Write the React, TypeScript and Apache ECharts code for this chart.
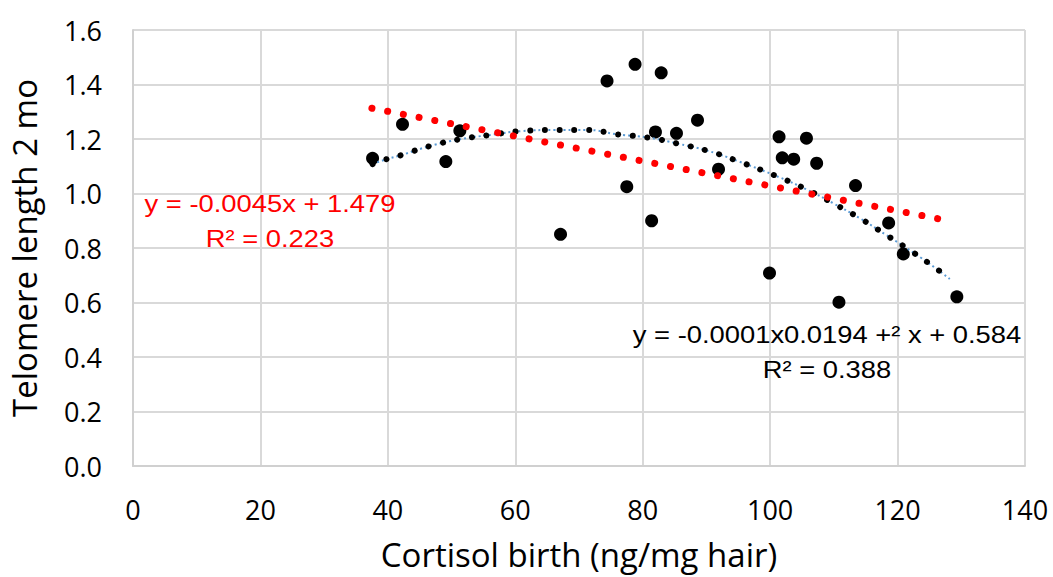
import React, { useEffect, useRef } from "react";
import * as echarts from "echarts";

// Scatter data: cortisol at birth (x) vs telomere length at 2 months (y)
const cortisol = [
  37.6, 42.3, 49.1, 51.3, 67.1, 74.4, 78.8, 82.9, 77.5, 81.4, 82.0, 85.3, 88.6,
  91.9, 101.4, 105.7, 101.9, 103.7, 107.3, 113.4, 99.9, 110.8, 118.6, 120.9, 129.3,
];
const telomere = [
  1.129, 1.254, 1.117, 1.23, 0.85, 1.413, 1.474, 1.443, 1.025, 0.9, 1.226, 1.221, 1.269,
  1.089, 1.208, 1.203, 1.131, 1.126, 1.111, 1.029, 0.708, 0.601, 0.892, 0.778, 0.621,
];

// Linear trendline endpoints
const linTrendX = [37.5, 128.0];
const linTrendY = [1.313, 0.9];

// Polynomial trendline points
const polyTrendX = [
  37.6, 39.8, 42.1, 46.6, 51.3, 56.1, 61.0, 66.1, 71.2, 76.1, 80.9, 85.7, 90.3, 94.8,
  101.5, 105.7, 109.9, 114.1, 118.2, 122.3, 126.2, 128.2,
];
const polyTrendY = [
  1.108, 1.126, 1.141, 1.174, 1.199, 1.215, 1.229, 1.233, 1.233, 1.217, 1.205, 1.182,
  1.156, 1.12, 1.059, 1.015, 0.964, 0.909, 0.848, 0.786, 0.722, 0.686,
];

const xTitle = "Cortisol birth (ng/mg hair)";
const yTitle = "Telomere length 2 mo";
const linEq = "y = -0.0045x + 1.479";
const linR2 = "R² = 0.223";
const polyEq = "y = -0.0001x0.0194 +² x + 0.584";
const polyR2 = "R² = 0.388";

const zip = (a: number[], b: number[]) => a.map((v, i) => [v, b[i]]);

export default function App() {
  const ref = useRef<HTMLDivElement>(null);
  useEffect(() => {
    if (!ref.current) return;
    const chart = echarts.init(ref.current, null, { renderer: "svg" });
    const axisFont = "'Open Sans', sans-serif";
    const eqFont = "'Liberation Sans', Arial, sans-serif";
    chart.setOption({
      animation: false,
      backgroundColor: "#ffffff",
      grid: {
        left: 133,
        right: 28,
        top: 30,
        bottom: 111,
        containLabel: false,
        outerBoundsMode: "none",
      },
      xAxis: {
        type: "value",
        min: 0,
        max: 140,
        interval: 20,
        name: xTitle,
        nameLocation: "middle",
        nameGap: 72,
        nameTextStyle: { fontFamily: axisFont, fontSize: 33, color: "#000" },
        axisLine: { show: true, lineStyle: { color: "#d0d0d0", width: 2 } },
        axisTick: { show: false },
        splitLine: { show: true, lineStyle: { color: "#d9d9d9", width: 2 } },
        axisLabel: { fontFamily: axisFont, fontSize: 27, color: "#000", margin: 30 },
      },
      yAxis: {
        type: "value",
        min: 0,
        max: 1.6,
        interval: 0.2,
        name: yTitle,
        nameLocation: "middle",
        nameGap: 92,
        nameTextStyle: { fontFamily: axisFont, fontSize: 33, color: "#000" },
        axisLine: { show: true, lineStyle: { color: "#d0d0d0", width: 2 } },
        axisTick: { show: false },
        splitLine: { show: true, lineStyle: { color: "#d9d9d9", width: 2 } },
        axisLabel: {
          fontFamily: axisFont,
          fontSize: 27,
          color: "#000",
          margin: 31,
          formatter: (v: number) => v.toFixed(1),
        },
      },
      series: [
        {
          type: "scatter",
          data: zip(cortisol, telomere),
          symbol: "circle",
          symbolSize: 13,
          itemStyle: { color: "#000", opacity: 1 },
          z: 2,
        },
        {
          type: "line",
          data: zip(polyTrendX, polyTrendY),
          smooth: true,
          symbol: "none",
          lineStyle: { color: "#5b9bd5", width: 2, type: [2, 3] },
          z: 3,
        },
        {
          type: "line",
          data: zip(polyTrendX, polyTrendY),
          smooth: true,
          symbol: "none",
          lineStyle: { color: "#000", width: 6, type: [0.01, 14.7], cap: "round" },
          z: 4,
        },
        {
          type: "line",
          data: zip(linTrendX, linTrendY),
          symbol: "none",
          lineStyle: { color: "#ff0000", width: 7, type: [0.01, 16], cap: "round" },
          z: 5,
        },
      ],
      graphic: [
        {
          type: "text",
          x: 270,
          y: 204,
          scaleX: 1.14,
          z: 10,
          style: {
            text: linEq,
            fontFamily: eqFont,
            fontSize: 24,
            fill: "#ff0000",
            textAlign: "center",
            textVerticalAlign: "middle",
          },
        },
        {
          type: "text",
          x: 270,
          y: 239,
          scaleX: 1.14,
          z: 10,
          style: {
            text: linR2,
            fontFamily: eqFont,
            fontSize: 24,
            fill: "#ff0000",
            textAlign: "center",
            textVerticalAlign: "middle",
          },
        },
        {
          type: "text",
          x: 827,
          y: 335,
          scaleX: 1.14,
          z: 10,
          style: {
            text: polyEq,
            fontFamily: eqFont,
            fontSize: 24,
            fill: "#000",
            textAlign: "center",
            textVerticalAlign: "middle",
          },
        },
        {
          type: "text",
          x: 827,
          y: 370,
          scaleX: 1.14,
          z: 10,
          style: {
            text: polyR2,
            fontFamily: eqFont,
            fontSize: 24,
            fill: "#000",
            textAlign: "center",
            textVerticalAlign: "middle",
          },
        },
      ],
    });
    return () => chart.dispose();
  }, []);
  return (
    <div
      ref={ref}
      style={{ position: "fixed", left: 0, top: 0, width: 1053, height: 577, background: "#fff" }}
    />
  );
}
